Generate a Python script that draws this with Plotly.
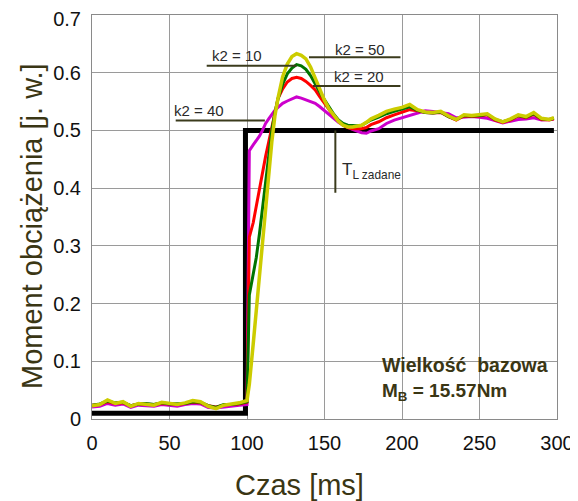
import plotly.graph_objects as go

# ---- data ----
t_ms = [0, 5, 10, 15, 20, 25, 30, 35, 40, 45, 50, 55, 60, 65, 70, 75, 80, 85, 90, 95, 100,
        101.5, 104, 106, 108, 110, 112, 114, 116, 118, 120,
        123, 126, 129, 132, 135, 138, 141, 144, 147, 150, 153, 156, 159, 162, 165, 168, 171, 174, 177, 180,
        185, 190, 195, 200, 205, 210, 215, 220, 225, 230, 235, 240, 245, 250, 255, 260, 265, 270, 275,
        280, 285, 290, 295, 298]

k2_50 = [0.023, 0.025, 0.033, 0.027, 0.030, 0.022, 0.027, 0.026, 0.024, 0.029, 0.027, 0.025, 0.028, 0.032,
         0.030, 0.022, 0.018, 0.024, 0.026, 0.028, 0.032,
         0.06, 0.13, 0.19, 0.25, 0.305, 0.36, 0.42, 0.48, 0.525, 0.556,
         0.593, 0.615, 0.628, 0.633, 0.630, 0.624, 0.610, 0.590, 0.570, 0.552, 0.537, 0.526, 0.516, 0.509,
         0.506, 0.506, 0.507, 0.509, 0.514, 0.520,
         0.526, 0.533, 0.537, 0.540, 0.545, 0.536, 0.532, 0.531, 0.533, 0.525, 0.519, 0.527, 0.526, 0.527,
         0.529, 0.520, 0.515, 0.520, 0.527, 0.524, 0.531, 0.521, 0.519, 0.522]

k2_10 = [0.024, 0.026, 0.031, 0.028, 0.029, 0.023, 0.026, 0.027, 0.025, 0.028, 0.026, 0.026, 0.027, 0.030,
         0.029, 0.023, 0.020, 0.025, 0.025, 0.027, 0.030,
         0.215, 0.25, 0.28, 0.32, 0.365, 0.42, 0.46, 0.50, 0.53, 0.555,
         0.58, 0.598, 0.608, 0.614, 0.612, 0.606, 0.595, 0.580, 0.566, 0.553, 0.540, 0.528, 0.518, 0.512,
         0.509, 0.508, 0.508, 0.509, 0.513, 0.518,
         0.523, 0.529, 0.533, 0.537, 0.541, 0.535, 0.531, 0.530, 0.532, 0.524, 0.519, 0.526, 0.525, 0.526,
         0.528, 0.519, 0.515, 0.519, 0.526, 0.523, 0.529, 0.520, 0.519, 0.521]

k2_20 = [0.024, 0.025, 0.030, 0.027, 0.028, 0.023, 0.026, 0.026, 0.025, 0.027, 0.026, 0.025, 0.027, 0.029,
         0.028, 0.023, 0.021, 0.024, 0.025, 0.026, 0.029,
         0.315, 0.34, 0.37, 0.40, 0.43, 0.455, 0.48, 0.505, 0.535, 0.555,
         0.572, 0.584, 0.590, 0.592, 0.590, 0.585, 0.578, 0.570, 0.558, 0.547, 0.535, 0.525, 0.516, 0.509,
         0.505, 0.503, 0.503, 0.503, 0.505, 0.510,
         0.515, 0.522, 0.527, 0.532, 0.536, 0.534, 0.531, 0.530, 0.531, 0.524, 0.518, 0.525, 0.524, 0.525,
         0.527, 0.518, 0.514, 0.518, 0.525, 0.522, 0.528, 0.519, 0.518, 0.520]

k2_40 = [0.021, 0.022, 0.027, 0.024, 0.026, 0.020, 0.024, 0.023, 0.022, 0.025, 0.024, 0.022, 0.025, 0.027,
         0.026, 0.020, 0.019, 0.021, 0.023, 0.024, 0.025,
         0.465, 0.475, 0.482, 0.49, 0.50, 0.512, 0.52, 0.528, 0.535, 0.54,
         0.547, 0.551, 0.555, 0.558, 0.556, 0.553, 0.551, 0.547, 0.541, 0.534, 0.527, 0.52, 0.514, 0.509,
         0.505, 0.502, 0.499, 0.496, 0.495, 0.499,
         0.503, 0.512, 0.518, 0.522, 0.527, 0.531, 0.534, 0.533, 0.531, 0.529, 0.522, 0.523, 0.524, 0.523,
         0.521, 0.517, 0.513, 0.516, 0.519, 0.520, 0.522, 0.518, 0.520, 0.520]

ref_t = [0, 99, 99, 298]
ref_v = [0.01, 0.01, 0.5, 0.5]

x_ticks = [0, 50, 100, 150, 200, 250, 300]
y_ticks = [0, 0.1, 0.2, 0.3, 0.4, 0.5, 0.6, 0.7]
# the top label sits a little below its gridline in the reference (baseline shift keeps full size)
y_ticktext = ["0", "0.1", "0.2", "0.3", "0.4", "0.5", "0.6",
              "<sub><span style='font-size:20px'>0.7</span></sub>"]

FONT = "Arial, Liberation Sans, sans-serif"
OLIVE = "#3a3614"
LINEC = "#3b3b1c"

fig = go.Figure()
fig.add_trace(go.Scatter(x=ref_t, y=ref_v, mode="lines", line=dict(color="black", width=5), showlegend=False))
fig.add_trace(go.Scatter(x=t_ms, y=k2_40, mode="lines", line=dict(color="#cc00cc", width=3), showlegend=False))
fig.add_trace(go.Scatter(x=t_ms, y=k2_20, mode="lines", line=dict(color="#ff0000", width=3), showlegend=False))
fig.add_trace(go.Scatter(x=t_ms, y=k2_10, mode="lines", line=dict(color="#007400", width=3), showlegend=False))
fig.add_trace(go.Scatter(x=t_ms, y=k2_50, mode="lines", line=dict(color="#cccc00", width=3.5), showlegend=False))

# leader lines
shapes = []
for x0, x1, yv in [(74, 132, 0.612), (140, 199, 0.627), (142.5, 199, 0.577), (54, 111.5, 0.517)]:
    shapes.append(dict(type="line", xref="x", yref="y", x0=x0, x1=x1, y0=yv, y1=yv,
                       line=dict(color=LINEC, width=2)))
shapes.append(dict(type="line", xref="x", yref="y", x0=157, x1=157, y0=0.5, y1=0.392,
                   line=dict(color=LINEC, width=2)))

annotations = []
for txt, xx, yy in [("k2 = 10", 76, 0.629), ("k2 = 50", 155.5, 0.640), ("k2 = 20", 155, 0.594),
                    ("k2 = 40", 51.5, 0.534)]:
    annotations.append(dict(text=txt, x=xx, y=yy, xref="x", yref="y", xanchor="left", yanchor="middle",
                            showarrow=False, font=dict(family=FONT, size=15, color="#2a2a2a")))
annotations.append(dict(text="T<sub>L zadane</sub>", x=160, y=0.43, xref="x", yref="y", xanchor="left",
                        yanchor="middle", showarrow=False, font=dict(family=FONT, size=17, color="#2a2a2a")))
annotations.append(dict(text="<b>Wielkość\u00a0 bazowa</b>", x=185.5, y=0.094, xref="x", yref="y",
                        xanchor="left", yanchor="middle", showarrow=False,
                        font=dict(family=FONT, size=19.5, color=OLIVE)))
annotations.append(dict(text="<b>M<sub>B</sub> = 15.57Nm</b>", x=185.5, y=0.046, xref="x", yref="y",
                        xanchor="left", yanchor="middle", showarrow=False,
                        font=dict(family=FONT, size=19, color=OLIVE)))
annotations.append(dict(text="Czas [ms]", x=(299 - 92) / 465, y=-(485 - 419) / 404, xref="paper", yref="paper",
                        xanchor="center", yanchor="middle", showarrow=False,
                        font=dict(family=FONT, size=29, color=OLIVE)))
annotations.append(dict(text="Moment obciążenia [j. w.]", x=(32 - 92) / 465, y=(419 - 226) / 404,
                        xref="paper", yref="paper", xanchor="center", yanchor="middle", textangle=-90,
                        showarrow=False, font=dict(family=FONT, size=29, color=OLIVE)))

# page body adds an 8px offset, so the figure is 8px smaller and margins shifted accordingly
fig.update_layout(
    width=570, height=493,
    margin=dict(l=84, r=21, t=7, b=82, autoexpand=False),
    paper_bgcolor="white", plot_bgcolor="white",
    shapes=shapes, annotations=annotations,
    xaxis=dict(range=[0, 300], tickvals=x_ticks, showgrid=True, gridcolor="#9a9a9a", gridwidth=1,
               zeroline=False, showline=True, linecolor="#8a8a8a", linewidth=1, mirror=True,
               ticks="outside", ticklen=6, tickcolor="rgba(0,0,0,0)", automargin=False,
               ticklabeloverflow="allow",
               tickfont=dict(family=FONT, size=20, color="#111111")),
    yaxis=dict(range=[0, 0.7], tickvals=y_ticks, ticktext=y_ticktext, showgrid=True, gridcolor="#9a9a9a",
               gridwidth=1, zeroline=False, showline=True, linecolor="#8a8a8a", linewidth=1, mirror=True,
               ticks="outside", ticklen=6, tickcolor="rgba(0,0,0,0)", automargin=False,
               ticklabeloverflow="allow",
               tickfont=dict(family=FONT, size=20, color="#111111")),
)

fig.write_html("out.html")
